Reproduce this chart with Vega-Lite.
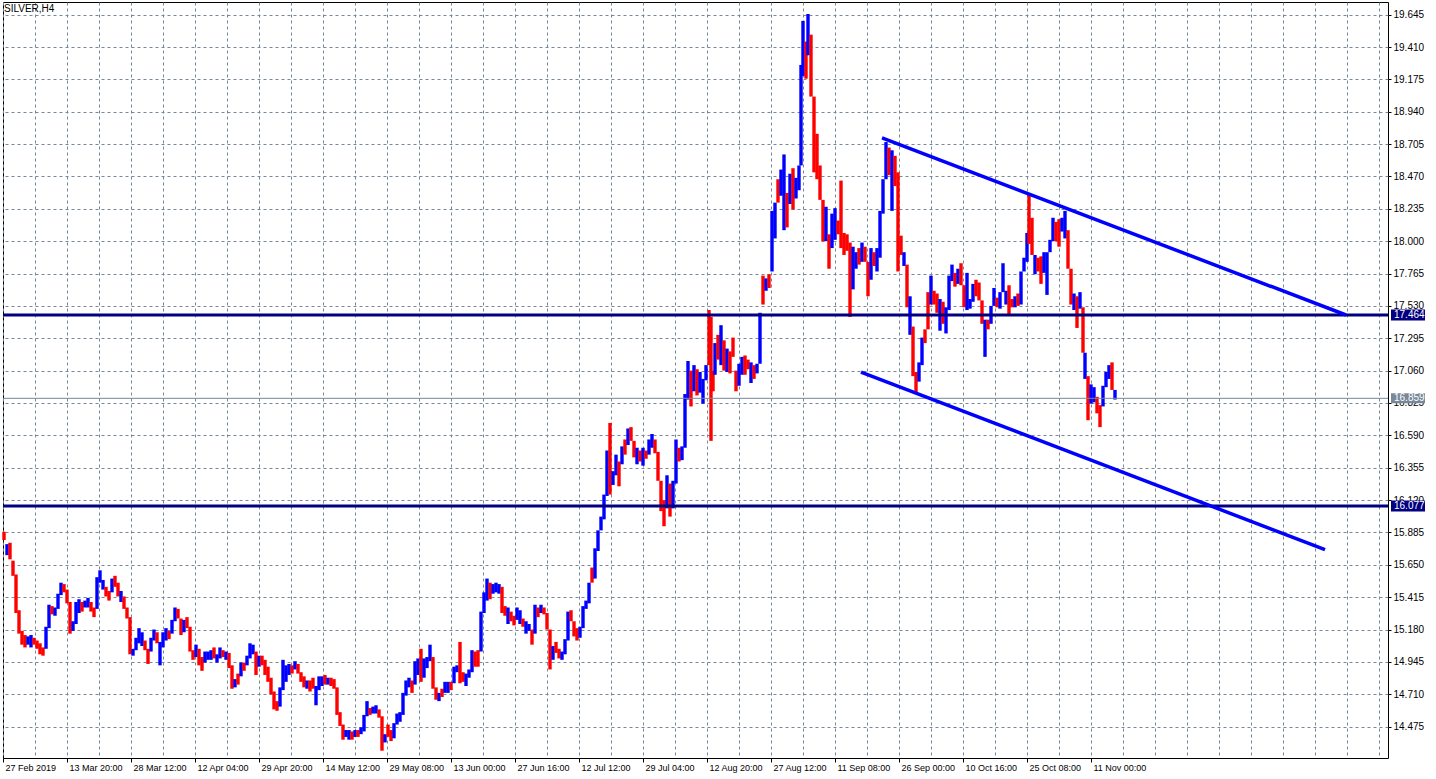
{
"$schema":"https://vega.github.io/schema/vega-lite/v6.json",
"width":1385,"height":756,
"autosize":{"type":"none"},
"padding":{"left":3,"top":2,"right":48,"bottom":21},
"background":"#ffffff",
"config":{"view":{"stroke":"#000000","strokeWidth":1},"font":"Liberation Sans","axisX":{"labelOverlap":false,"tickCount":100},"axisY":{"labelOverlap":false,"tickCount":100}},
"datasets":{
"bars":[
{"i":4,"l":15.83,"h":15.89,"c":"d"},{"i":7,"l":15.72,"h":15.80,"c":"u"},{"i":10,"l":15.69,"h":15.81,"c":"d"},{"i":13,"l":15.57,"h":15.68,"c":"d"},{"i":16,"l":15.30,"h":15.58,"c":"d"},{"i":19,"l":15.15,"h":15.32,"c":"d"},{"i":22,"l":15.07,"h":15.17,"c":"d"},{"i":25,"l":15.05,"h":15.14,"c":"d"},{"i":28,"l":15.07,"h":15.13,"c":"u"},{"i":31,"l":15.05,"h":15.14,"c":"u"},{"i":34,"l":15.07,"h":15.12,"c":"d"},{"i":37,"l":15.04,"h":15.10,"c":"d"},{"i":40,"l":15.00,"h":15.08,"c":"d"},{"i":43,"l":14.99,"h":15.05,"c":"d"},{"i":46,"l":15.04,"h":15.20,"c":"u"},{"i":49,"l":15.19,"h":15.36,"c":"u"},{"i":52,"l":15.29,"h":15.35,"c":"d"},{"i":55,"l":15.28,"h":15.34,"c":"u"},{"i":58,"l":15.33,"h":15.44,"c":"u"},{"i":61,"l":15.43,"h":15.52,"c":"u"},{"i":64,"l":15.45,"h":15.51,"c":"d"},{"i":67,"l":15.37,"h":15.47,"c":"d"},{"i":70,"l":15.15,"h":15.38,"c":"d"},{"i":73,"l":15.17,"h":15.24,"c":"u"},{"i":76,"l":15.22,"h":15.38,"c":"u"},{"i":79,"l":15.30,"h":15.40,"c":"u"},{"i":82,"l":15.31,"h":15.38,"c":"d"},{"i":85,"l":15.34,"h":15.39,"c":"u"},{"i":88,"l":15.34,"h":15.41,"c":"u"},{"i":91,"l":15.31,"h":15.38,"c":"d"},{"i":94,"l":15.27,"h":15.34,"c":"d"},{"i":97,"l":15.33,"h":15.56,"c":"u"},{"i":100,"l":15.52,"h":15.61,"c":"u"},{"i":103,"l":15.47,"h":15.54,"c":"u"},{"i":106,"l":15.42,"h":15.49,"c":"d"},{"i":109,"l":15.39,"h":15.46,"c":"d"},{"i":112,"l":15.45,"h":15.55,"c":"u"},{"i":115,"l":15.49,"h":15.57,"c":"d"},{"i":118,"l":15.42,"h":15.52,"c":"d"},{"i":121,"l":15.38,"h":15.46,"c":"u"},{"i":124,"l":15.33,"h":15.42,"c":"d"},{"i":127,"l":15.26,"h":15.34,"c":"d"},{"i":130,"l":15.00,"h":15.27,"c":"d"},{"i":133,"l":14.99,"h":15.04,"c":"u"},{"i":136,"l":15.03,"h":15.12,"c":"u"},{"i":139,"l":15.08,"h":15.19,"c":"u"},{"i":142,"l":15.06,"h":15.16,"c":"u"},{"i":145,"l":15.03,"h":15.10,"c":"d"},{"i":148,"l":14.93,"h":15.04,"c":"d"},{"i":151,"l":15.02,"h":15.12,"c":"u"},{"i":154,"l":15.10,"h":15.18,"c":"u"},{"i":157,"l":15.08,"h":15.16,"c":"d"},{"i":160,"l":14.92,"h":15.09,"c":"u"},{"i":163,"l":15.05,"h":15.16,"c":"u"},{"i":166,"l":15.10,"h":15.19,"c":"u"},{"i":169,"l":15.11,"h":15.17,"c":"d"},{"i":172,"l":15.15,"h":15.25,"c":"u"},{"i":175,"l":15.24,"h":15.34,"c":"u"},{"i":178,"l":15.26,"h":15.33,"c":"d"},{"i":181,"l":15.14,"h":15.26,"c":"d"},{"i":184,"l":15.16,"h":15.25,"c":"u"},{"i":187,"l":15.19,"h":15.27,"c":"d"},{"i":190,"l":15.02,"h":15.20,"c":"d"},{"i":193,"l":14.96,"h":15.03,"c":"d"},{"i":196,"l":14.98,"h":15.07,"c":"u"},{"i":199,"l":14.92,"h":15.04,"c":"d"},{"i":202,"l":14.88,"h":14.98,"c":"d"},{"i":205,"l":14.94,"h":15.02,"c":"u"},{"i":208,"l":14.96,"h":15.02,"c":"u"},{"i":211,"l":14.96,"h":15.03,"c":"u"},{"i":214,"l":14.97,"h":15.05,"c":"d"},{"i":217,"l":14.94,"h":15.00,"c":"u"},{"i":220,"l":14.97,"h":15.05,"c":"u"},{"i":223,"l":14.98,"h":15.03,"c":"d"},{"i":226,"l":14.96,"h":15.02,"c":"u"},{"i":229,"l":14.90,"h":15.01,"c":"d"},{"i":232,"l":14.75,"h":14.92,"c":"d"},{"i":235,"l":14.76,"h":14.82,"c":"u"},{"i":238,"l":14.78,"h":14.86,"c":"d"},{"i":241,"l":14.84,"h":14.94,"c":"u"},{"i":244,"l":14.88,"h":14.94,"c":"d"},{"i":247,"l":14.92,"h":14.99,"c":"u"},
{"i":250,"l":14.97,"h":15.08,"c":"u"},{"i":253,"l":15.00,"h":15.07,"c":"u"},{"i":256,"l":14.85,"h":15.02,"c":"d"},{"i":259,"l":14.91,"h":14.99,"c":"u"},{"i":262,"l":14.92,"h":14.99,"c":"d"},{"i":265,"l":14.85,"h":14.96,"c":"d"},{"i":268,"l":14.80,"h":14.91,"c":"d"},{"i":271,"l":14.71,"h":14.83,"c":"d"},{"i":274,"l":14.60,"h":14.73,"c":"d"},{"i":277,"l":14.59,"h":14.66,"c":"d"},{"i":280,"l":14.62,"h":14.76,"c":"u"},{"i":283,"l":14.74,"h":14.96,"c":"u"},{"i":286,"l":14.80,"h":14.92,"c":"u"},{"i":289,"l":14.85,"h":14.93,"c":"u"},{"i":292,"l":14.86,"h":14.92,"c":"d"},{"i":295,"l":14.89,"h":14.95,"c":"u"},{"i":298,"l":14.86,"h":14.93,"c":"d"},{"i":301,"l":14.80,"h":14.87,"c":"d"},{"i":304,"l":14.76,"h":14.84,"c":"d"},{"i":307,"l":14.75,"h":14.81,"c":"u"},{"i":310,"l":14.73,"h":14.81,"c":"d"},{"i":313,"l":14.75,"h":14.83,"c":"d"},{"i":316,"l":14.63,"h":14.77,"c":"u"},{"i":319,"l":14.74,"h":14.84,"c":"u"},{"i":322,"l":14.77,"h":14.84,"c":"u"},{"i":325,"l":14.78,"h":14.85,"c":"d"},{"i":328,"l":14.78,"h":14.83,"c":"u"},{"i":331,"l":14.77,"h":14.83,"c":"d"},{"i":334,"l":14.75,"h":14.82,"c":"d"},{"i":337,"l":14.56,"h":14.76,"c":"d"},{"i":340,"l":14.48,"h":14.58,"c":"d"},{"i":343,"l":14.38,"h":14.49,"c":"d"},{"i":346,"l":14.40,"h":14.45,"c":"u"},{"i":349,"l":14.38,"h":14.45,"c":"u"},{"i":352,"l":14.38,"h":14.44,"c":"d"},{"i":355,"l":14.40,"h":14.45,"c":"u"},{"i":358,"l":14.40,"h":14.45,"c":"d"},{"i":361,"l":14.42,"h":14.47,"c":"u"},{"i":364,"l":14.44,"h":14.56,"c":"u"},{"i":367,"l":14.55,"h":14.66,"c":"u"},{"i":370,"l":14.56,"h":14.61,"c":"d"},{"i":373,"l":14.57,"h":14.62,"c":"u"},{"i":376,"l":14.57,"h":14.63,"c":"u"},{"i":379,"l":14.54,"h":14.60,"c":"d"},{"i":382,"l":14.30,"h":14.55,"c":"d"},{"i":385,"l":14.36,"h":14.42,"c":"u"},{"i":388,"l":14.40,"h":14.49,"c":"d"},{"i":391,"l":14.37,"h":14.45,"c":"d"},{"i":394,"l":14.39,"h":14.50,"c":"u"},{"i":397,"l":14.49,"h":14.57,"c":"u"},{"i":400,"l":14.51,"h":14.58,"c":"u"},{"i":403,"l":14.56,"h":14.72,"c":"u"},{"i":406,"l":14.70,"h":14.81,"c":"u"},{"i":409,"l":14.76,"h":14.83,"c":"u"},{"i":412,"l":14.72,"h":14.81,"c":"d"},{"i":415,"l":14.78,"h":14.95,"c":"u"},{"i":418,"l":14.85,"h":14.97,"c":"u"},{"i":421,"l":14.80,"h":15.04,"c":"d"},{"i":424,"l":14.83,"h":14.97,"c":"u"},{"i":427,"l":14.90,"h":14.98,"c":"u"},{"i":430,"l":14.95,"h":15.07,"c":"u"},{"i":433,"l":14.75,"h":14.98,"c":"d"},{"i":436,"l":14.67,"h":14.76,"c":"d"},{"i":439,"l":14.66,"h":14.72,"c":"u"},{"i":442,"l":14.69,"h":14.75,"c":"d"},{"i":445,"l":14.72,"h":14.80,"c":"u"},{"i":448,"l":14.72,"h":14.80,"c":"u"},{"i":451,"l":14.74,"h":14.80,"c":"d"},{"i":454,"l":14.79,"h":14.91,"c":"u"},{"i":457,"l":14.87,"h":14.92,"c":"u"},{"i":460,"l":14.79,"h":15.09,"c":"d"},{"i":463,"l":14.80,"h":14.87,"c":"d"},{"i":466,"l":14.77,"h":14.86,"c":"u"},{"i":469,"l":14.83,"h":14.89,"c":"u"},{"i":472,"l":14.87,"h":15.03,"c":"u"},{"i":475,"l":14.91,"h":15.02,"c":"d"},{"i":478,"l":14.91,"h":15.03,"c":"d"},{"i":481,"l":15.02,"h":15.31,"c":"u"},{"i":484,"l":15.30,"h":15.45,"c":"u"},{"i":487,"l":15.39,"h":15.55,"c":"u"},
{"i":490,"l":15.40,"h":15.52,"c":"d"},{"i":493,"l":15.44,"h":15.51,"c":"u"},{"i":496,"l":15.45,"h":15.52,"c":"u"},{"i":499,"l":15.44,"h":15.51,"c":"u"},{"i":502,"l":15.30,"h":15.49,"c":"d"},{"i":505,"l":15.28,"h":15.35,"c":"d"},{"i":508,"l":15.22,"h":15.34,"c":"u"},{"i":511,"l":15.24,"h":15.31,"c":"d"},{"i":514,"l":15.21,"h":15.28,"c":"d"},{"i":517,"l":15.25,"h":15.34,"c":"u"},{"i":520,"l":15.22,"h":15.32,"c":"u"},{"i":523,"l":15.20,"h":15.26,"c":"d"},{"i":526,"l":15.15,"h":15.24,"c":"u"},{"i":529,"l":15.17,"h":15.22,"c":"u"},{"i":532,"l":15.07,"h":15.18,"c":"d"},{"i":535,"l":15.15,"h":15.36,"c":"u"},{"i":538,"l":15.27,"h":15.34,"c":"d"},{"i":541,"l":15.30,"h":15.36,"c":"u"},{"i":544,"l":15.29,"h":15.34,"c":"d"},{"i":547,"l":15.18,"h":15.30,"c":"d"},{"i":550,"l":14.89,"h":15.18,"c":"d"},{"i":553,"l":14.96,"h":15.06,"c":"u"},{"i":556,"l":15.01,"h":15.09,"c":"d"},{"i":559,"l":14.97,"h":15.04,"c":"d"},{"i":562,"l":14.96,"h":15.02,"c":"u"},{"i":565,"l":15.00,"h":15.11,"c":"u"},{"i":568,"l":15.10,"h":15.31,"c":"u"},{"i":571,"l":15.24,"h":15.32,"c":"d"},{"i":574,"l":15.13,"h":15.24,"c":"d"},{"i":577,"l":15.10,"h":15.19,"c":"d"},{"i":580,"l":15.12,"h":15.20,"c":"u"},{"i":583,"l":15.19,"h":15.35,"c":"u"},{"i":586,"l":15.33,"h":15.39,"c":"u"},{"i":589,"l":15.37,"h":15.52,"c":"u"},{"i":592,"l":15.52,"h":15.63,"c":"d"},{"i":595,"l":15.55,"h":15.77,"c":"u"},{"i":598,"l":15.75,"h":15.90,"c":"u"},{"i":601,"l":15.90,"h":16.00,"c":"u"},{"i":604,"l":15.98,"h":16.16,"c":"u"},{"i":607,"l":16.15,"h":16.48,"c":"u"},{"i":610,"l":16.16,"h":16.68,"c":"d"},{"i":613,"l":16.23,"h":16.33,"c":"u"},{"i":616,"l":16.30,"h":16.45,"c":"u"},{"i":619,"l":16.22,"h":16.40,"c":"d"},{"i":622,"l":16.38,"h":16.51,"c":"u"},{"i":625,"l":16.45,"h":16.56,"c":"d"},{"i":628,"l":16.52,"h":16.64,"c":"u"},{"i":631,"l":16.55,"h":16.65,"c":"d"},{"i":634,"l":16.43,"h":16.55,"c":"d"},{"i":637,"l":16.38,"h":16.50,"c":"u"},{"i":640,"l":16.40,"h":16.48,"c":"d"},{"i":643,"l":16.37,"h":16.50,"c":"u"},{"i":646,"l":16.42,"h":16.48,"c":"d"},{"i":649,"l":16.45,"h":16.56,"c":"u"},{"i":652,"l":16.50,"h":16.60,"c":"u"},{"i":655,"l":16.46,"h":16.56,"c":"d"},{"i":658,"l":16.26,"h":16.47,"c":"d"},{"i":661,"l":16.04,"h":16.26,"c":"d"},{"i":664,"l":15.93,"h":16.12,"c":"d"},{"i":667,"l":16.06,"h":16.30,"c":"u"},{"i":670,"l":16.00,"h":16.24,"c":"d"},{"i":673,"l":16.06,"h":16.26,"c":"u"},{"i":676,"l":16.24,"h":16.56,"c":"u"},{"i":679,"l":16.40,"h":16.50,"c":"d"},{"i":682,"l":16.41,"h":16.51,"c":"u"},{"i":685,"l":16.50,"h":16.89,"c":"u"},{"i":688,"l":16.85,"h":17.13,"c":"u"},{"i":691,"l":16.80,"h":17.06,"c":"d"},{"i":694,"l":16.91,"h":17.10,"c":"u"},{"i":697,"l":16.88,"h":17.07,"c":"d"},{"i":700,"l":16.90,"h":17.05,"c":"u"},{"i":703,"l":16.82,"h":17.00,"c":"u"},{"i":706,"l":16.99,"h":17.10,"c":"u"},{"i":709,"l":17.10,"h":17.50,"c":"d"},{"i":711,"l":16.55,"h":17.45,"c":"d"},{"i":713,"l":16.91,"h":17.06,"c":"d"},{"i":715,"l":17.03,"h":17.26,"c":"u"},{"i":718,"l":17.14,"h":17.32,"c":"d"},{"i":721,"l":17.10,"h":17.39,"c":"u"},{"i":724,"l":17.06,"h":17.28,"c":"d"},{"i":727,"l":17.05,"h":17.22,"c":"u"},{"i":730,"l":17.04,"h":17.20,"c":"d"},
{"i":733,"l":17.16,"h":17.30,"c":"d"},{"i":736,"l":16.91,"h":17.06,"c":"d"},{"i":739,"l":16.95,"h":17.11,"c":"u"},{"i":742,"l":17.03,"h":17.16,"c":"u"},{"i":745,"l":17.03,"h":17.17,"c":"d"},{"i":748,"l":17.07,"h":17.14,"c":"d"},{"i":751,"l":16.97,"h":17.12,"c":"u"},{"i":754,"l":17.00,"h":17.10,"c":"d"},{"i":757,"l":17.04,"h":17.11,"c":"u"},{"i":760,"l":17.11,"h":17.48,"c":"u"},{"i":763,"l":17.54,"h":17.75,"c":"d"},{"i":766,"l":17.64,"h":17.73,"c":"u"},{"i":769,"l":17.66,"h":17.76,"c":"d"},{"i":772,"l":17.78,"h":18.22,"c":"u"},{"i":775,"l":18.02,"h":18.28,"c":"u"},{"i":778,"l":18.28,"h":18.45,"c":"d"},{"i":781,"l":18.33,"h":18.52,"c":"u"},{"i":784,"l":18.08,"h":18.63,"c":"u"},{"i":787,"l":18.10,"h":18.35,"c":"d"},{"i":790,"l":18.27,"h":18.49,"c":"u"},{"i":793,"l":18.23,"h":18.53,"c":"d"},{"i":796,"l":18.31,"h":18.46,"c":"u"},{"i":799,"l":18.37,"h":18.55,"c":"u"},{"i":801,"l":18.55,"h":19.28,"c":"u"},{"i":803,"l":19.20,"h":19.60,"c":"u"},{"i":806,"l":19.18,"h":19.45,"c":"d"},{"i":808,"l":19.35,"h":19.65,"c":"u"},{"i":811,"l":19.05,"h":19.50,"c":"d"},{"i":814,"l":18.50,"h":19.05,"c":"d"},{"i":817,"l":18.45,"h":18.78,"c":"d"},{"i":820,"l":18.30,"h":18.55,"c":"d"},{"i":823,"l":18.00,"h":18.30,"c":"d"},{"i":826,"l":18.00,"h":18.25,"c":"u"},{"i":829,"l":17.80,"h":18.05,"c":"d"},{"i":832,"l":17.95,"h":18.20,"c":"u"},{"i":835,"l":18.01,"h":18.24,"c":"u"},{"i":838,"l":18.05,"h":18.15,"c":"d"},{"i":841,"l":17.95,"h":18.44,"c":"d"},{"i":844,"l":17.90,"h":18.06,"c":"d"},{"i":847,"l":17.93,"h":18.05,"c":"d"},{"i":850,"l":17.45,"h":17.99,"c":"d"},{"i":853,"l":17.65,"h":17.96,"c":"u"},{"i":856,"l":17.80,"h":17.92,"c":"u"},{"i":859,"l":17.83,"h":17.95,"c":"d"},{"i":862,"l":17.85,"h":17.99,"c":"u"},{"i":865,"l":17.85,"h":17.96,"c":"d"},{"i":868,"l":17.60,"h":17.85,"c":"d"},{"i":871,"l":17.72,"h":17.95,"c":"u"},{"i":874,"l":17.82,"h":17.92,"c":"d"},{"i":877,"l":17.78,"h":17.95,"c":"u"},{"i":880,"l":17.88,"h":18.22,"c":"u"},{"i":883,"l":18.20,"h":18.45,"c":"u"},{"i":886,"l":18.45,"h":18.72,"c":"u"},{"i":889,"l":18.48,"h":18.68,"c":"d"},{"i":892,"l":18.22,"h":18.66,"c":"u"},{"i":895,"l":18.40,"h":18.62,"c":"d"},{"i":898,"l":17.78,"h":18.50,"c":"d"},{"i":901,"l":17.90,"h":18.04,"c":"d"},{"i":904,"l":17.82,"h":17.92,"c":"u"},{"i":907,"l":17.52,"h":17.83,"c":"d"},{"i":910,"l":17.32,"h":17.60,"c":"u"},{"i":913,"l":17.02,"h":17.38,"c":"d"},{"i":916,"l":16.90,"h":17.05,"c":"d"},{"i":919,"l":16.98,"h":17.12,"c":"u"},{"i":922,"l":17.10,"h":17.30,"c":"u"},{"i":925,"l":17.26,"h":17.36,"c":"d"},{"i":928,"l":17.36,"h":17.63,"c":"d"},{"i":931,"l":17.54,"h":17.75,"c":"u"},{"i":934,"l":17.54,"h":17.64,"c":"d"},{"i":937,"l":17.48,"h":17.62,"c":"d"},{"i":940,"l":17.35,"h":17.58,"c":"u"},{"i":943,"l":17.40,"h":17.56,"c":"d"},{"i":946,"l":17.33,"h":17.52,"c":"u"},{"i":949,"l":17.50,"h":17.75,"c":"u"},{"i":952,"l":17.71,"h":17.83,"c":"u"},{"i":955,"l":17.67,"h":17.77,"c":"d"},{"i":958,"l":17.69,"h":17.80,"c":"u"},
{"i":961,"l":17.68,"h":17.84,"c":"d"},{"i":964,"l":17.52,"h":17.68,"c":"d"},{"i":967,"l":17.50,"h":17.77,"c":"u"},{"i":970,"l":17.51,"h":17.58,"c":"u"},{"i":973,"l":17.56,"h":17.69,"c":"u"},{"i":976,"l":17.60,"h":17.72,"c":"d"},{"i":979,"l":17.57,"h":17.70,"c":"d"},{"i":982,"l":17.40,"h":17.57,"c":"d"},{"i":985,"l":17.16,"h":17.43,"c":"u"},{"i":988,"l":17.36,"h":17.43,"c":"d"},{"i":991,"l":17.40,"h":17.53,"c":"u"},{"i":994,"l":17.53,"h":17.66,"c":"u"},{"i":997,"l":17.52,"h":17.59,"c":"d"},{"i":1000,"l":17.51,"h":17.63,"c":"u"},{"i":1003,"l":17.63,"h":17.84,"c":"u"},{"i":1006,"l":17.54,"h":17.64,"c":"u"},{"i":1009,"l":17.47,"h":17.68,"c":"d"},{"i":1012,"l":17.52,"h":17.58,"c":"d"},{"i":1015,"l":17.52,"h":17.60,"c":"u"},{"i":1018,"l":17.53,"h":17.62,"c":"d"},{"i":1021,"l":17.54,"h":17.78,"c":"u"},{"i":1024,"l":17.78,"h":17.88,"c":"u"},{"i":1027,"l":17.85,"h":18.06,"c":"u"},{"i":1029,"l":17.98,"h":18.35,"c":"d"},{"i":1032,"l":17.90,"h":18.17,"c":"d"},{"i":1035,"l":17.76,"h":17.90,"c":"u"},{"i":1038,"l":17.78,"h":17.88,"c":"d"},{"i":1041,"l":17.69,"h":17.89,"c":"d"},{"i":1044,"l":17.77,"h":17.92,"c":"u"},{"i":1047,"l":17.61,"h":17.92,"c":"u"},{"i":1050,"l":17.92,"h":18.01,"c":"u"},{"i":1053,"l":18.00,"h":18.17,"c":"u"},{"i":1056,"l":18.00,"h":18.14,"c":"d"},{"i":1059,"l":17.96,"h":18.16,"c":"d"},{"i":1062,"l":18.07,"h":18.17,"c":"u"},{"i":1065,"l":18.02,"h":18.22,"c":"u"},{"i":1068,"l":17.80,"h":18.08,"c":"d"},{"i":1071,"l":17.54,"h":17.80,"c":"d"},{"i":1074,"l":17.50,"h":17.62,"c":"u"},{"i":1077,"l":17.37,"h":17.60,"c":"d"},{"i":1080,"l":17.51,"h":17.63,"c":"u"},{"i":1083,"l":17.19,"h":17.52,"c":"d"},{"i":1085,"l":17.00,"h":17.19,"c":"u"},{"i":1088,"l":16.70,"h":17.02,"c":"d"},{"i":1091,"l":16.82,"h":16.96,"c":"u"},{"i":1094,"l":16.83,"h":16.94,"c":"u"},{"i":1097,"l":16.75,"h":16.87,"c":"d"},{"i":1100,"l":16.65,"h":16.81,"c":"d"},{"i":1103,"l":16.80,"h":16.95,"c":"u"},{"i":1106,"l":16.94,"h":17.05,"c":"u"},{"i":1109,"l":17.00,"h":17.10,"c":"u"},{"i":1112,"l":16.92,"h":17.12,"c":"d"},{"i":1115,"l":16.85,"h":16.92,"c":"u"}
],
"levels":[{"p":17.464},{"p":16.077}],
"bid":[{"p":16.859}],
"trend":[{"g":"a","i":882,"p":18.75},{"g":"a","i":1346,"p":17.464},{"g":"b","i":861,"p":17.05},{"g":"b","i":1325,"p":15.76}],
"tags":[{"p":17.464,"b":17.424,"t":17.504,"k":"n"},{"p":16.859,"b":16.823,"t":16.895,"k":"g"},{"p":16.077,"b":16.037,"t":16.117,"k":"n"}],
"label":[{"s":"SILVER,H4"}]
},
"layer":[
{"data":{"name":"bars"},"mark":{"type":"rule","strokeWidth":3.4},
"encoding":{
"x":{"field":"i","type":"quantitative","scale":{"domain":[3,1388],"nice":false,"zero":false},
"axis":{"title":null,"tickCount":100,"values":[3,35,67,99,131,163,195,227,259,291,323,355,387,419,451,483,515,547,579,611,643,675,707,739,771,803,835,867,899,931,963,995,1027,1059,1091,1123,1155,1187,1219,1251,1283,1315,1347,1379],
"grid":true,"gridColor":"#778899","gridDash":[3,3],"gridWidth":1,"domain":false,
"tickColor":"#000000","tickSize":4,"tickOpacity":{"condition":{"test":"(datum.value - 3) % 64 === 0 && datum.value <= 1091","value":1},"value":0},
"labelExpr":"(datum.value - 3) % 64 === 0 ? (['27 Feb 2019','13 Mar 20:00','28 Mar 12:00','12 Apr 04:00','29 Apr 20:00','14 May 12:00','29 May 08:00','13 Jun 00:00','27 Jun 16:00','12 Jul 12:00','29 Jul 04:00','12 Aug 20:00','27 Aug 12:00','11 Sep 08:00','26 Sep 00:00','10 Oct 16:00','25 Oct 08:00','11 Nov 00:00'][(datum.value - 3) / 64] || '') : ''",
"labelAlign":"left","labelBaseline":"top","labelOffset":2,"labelPadding":1,"labelFontSize":9,"labelFont":"Liberation Sans","labelColor":"#000000","labelFlush":false,"labelOverlap":false,"labelBound":false}},
"y":{"field":"l","type":"quantitative","scale":{"domain":[14.247,19.737],"nice":false,"zero":false},
"axis":{"title":null,"tickCount":100,"orient":"right","values":[14.475,14.71,14.945,15.18,15.415,15.65,15.885,16.12,16.355,16.59,16.825,17.06,17.295,17.53,17.765,18.0,18.235,18.47,18.705,18.94,19.175,19.41,19.645],
"format":".3f","grid":true,"gridColor":"#778899","gridDash":[3,3],"gridWidth":1,"domain":false,
"tickColor":"#000000","tickSize":3,"labelPadding":2,"labelFontSize":10,"labelFont":"Liberation Sans","labelColor":"#000000","labelFlush":false,"labelOverlap":false,"labelBaseline":"middle"}},
"y2":{"field":"h"},
"color":{"field":"c","type":"nominal","scale":{"domain":["u","d"],"range":["#0000ff","#ff0000"]},"legend":null}
}},
{"data":{"name":"bid"},"mark":{"type":"rule","color":"#778899","strokeWidth":1},
"encoding":{"y":{"field":"p","type":"quantitative","axis":{"title":null,"labelOverlap":false,"tickCount":100}}}},
{"data":{"name":"levels"},"mark":{"type":"rule","color":"#000080","strokeWidth":3},
"encoding":{"y":{"field":"p","type":"quantitative","axis":{"title":null,"labelOverlap":false,"tickCount":100}}}},
{"data":{"name":"trend"},"mark":{"type":"line","color":"#0000ff","strokeWidth":3.5},
"encoding":{"x":{"field":"i","type":"quantitative","axis":{"title":null,"labelOverlap":false,"tickCount":100}},"y":{"field":"p","type":"quantitative","axis":{"title":null,"labelOverlap":false,"tickCount":100}},"detail":{"field":"g"}}},
{"data":{"name":"tags"},"mark":{"type":"rect"},
"encoding":{"x":{"datum":1391,"axis":{"title":null,"labelOverlap":false,"tickCount":100}},"x2":{"datum":1425},"y":{"field":"b","type":"quantitative","axis":{"title":null,"labelOverlap":false,"tickCount":100}},"y2":{"field":"t"},
"fill":{"field":"k","type":"nominal","scale":{"domain":["n","g"],"range":["#000080","#778899"]},"legend":null}}},
{"data":{"name":"tags"},"mark":{"type":"text","color":"#ffffff","align":"left","baseline":"middle","fontSize":10,"font":"Liberation Sans"},
"encoding":{"x":{"datum":1394,"axis":{"title":null,"labelOverlap":false,"tickCount":100}},"y":{"field":"p","type":"quantitative","axis":{"title":null,"labelOverlap":false,"tickCount":100}},"text":{"field":"p","type":"quantitative","format":".3f"}}},
{"data":{"name":"label"},"mark":{"type":"text","align":"left","baseline":"alphabetic","fontSize":10,"font":"Liberation Sans","color":"#000000"},
"encoding":{"x":{"datum":4,"axis":{"title":null,"labelOverlap":false,"tickCount":100}},"y":{"datum":19.667,"axis":{"title":null,"labelOverlap":false,"tickCount":100}},"text":{"field":"s"}}}
]
}
